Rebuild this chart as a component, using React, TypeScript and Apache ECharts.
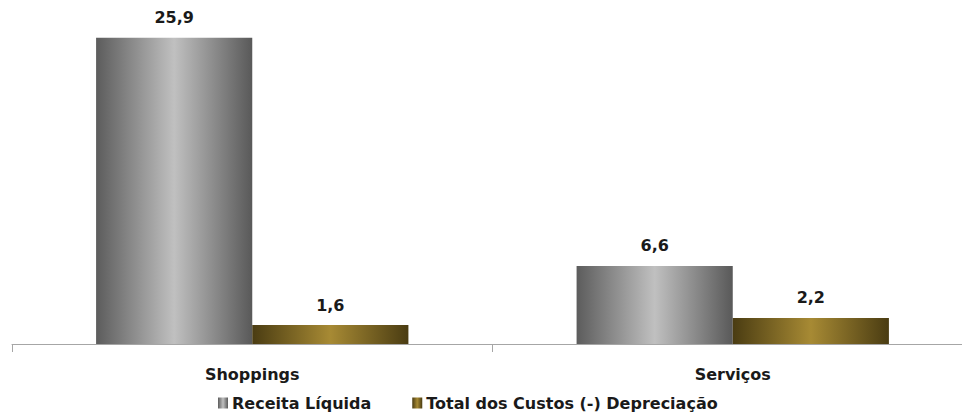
import React, { useEffect, useRef } from "react";
import * as echarts from "echarts";

const categories = ["Shoppings", "Serviços"];
const receitaLiquida = [25.9, 6.6];
const custosDepreciacao = [1.6, 2.2];
const seriesNames = ["Receita Líquida", "Total dos Custos (-) Depreciação"];

const FONT = "'DejaVu Sans', sans-serif";
const TEXT_COLOR = "#1a1a1a";

const hGradient = (edge: string, mid: string, edge2: string) =>
  new echarts.graphic.LinearGradient(0, 0, 1, 0, [
    { offset: 0, color: edge },
    { offset: 0.5, color: mid },
    { offset: 1, color: edge2 },
  ]);

const fmt = (v: number) => v.toFixed(1).replace(".", ",");

export default function App() {
  const ref = useRef<HTMLDivElement>(null);

  useEffect(() => {
    if (!ref.current) return;
    const chart = echarts.init(ref.current, undefined, { renderer: "svg" });
    const label = {
      show: true,
      position: "top" as const,
      distance: 12,
      fontFamily: FONT,
      fontWeight: "bold" as const,
      fontSize: 16,
      color: TEXT_COLOR,
      formatter: (p: any) => fmt(p.value),
    };
    chart.setOption({
      animation: false,
      backgroundColor: "#ffffff",
      // the category axis runs past the right edge of the canvas
      grid: {
        left: 12,
        top: 13,
        width: 961,
        height: 331,
        containLabel: false,
        outerBoundsMode: "none",
      },
      legend: {
        top: 395,
        left: 218,
        padding: 0,
        itemWidth: 10,
        itemHeight: 11,
        itemGap: 41,
        icon: "rect",
        textStyle: {
          fontFamily: FONT,
          fontWeight: "bold",
          fontSize: 16,
          lineHeight: 16,
          color: TEXT_COLOR,
          padding: [0, 0, 0, -1],
        },
        data: seriesNames,
      },
      xAxis: {
        type: "category",
        data: categories,
        axisLine: { lineStyle: { color: "#a6a6a6", width: 1 } },
        axisTick: { show: true, length: 8, lineStyle: { color: "#a6a6a6" } },
        axisLabel: {
          margin: 22,
          fontFamily: FONT,
          fontWeight: "bold",
          fontSize: 16,
          color: TEXT_COLOR,
        },
      },
      yAxis: {
        type: "value",
        min: 0,
        max: 28,
        show: false,
        splitLine: { show: false },
      },
      series: [
        {
          name: seriesNames[0],
          type: "bar",
          data: receitaLiquida,
          barGap: "0%",
          barCategoryGap: "35%",
          itemStyle: { color: hGradient("#5c5c5c", "#c0c0c0", "#595959") },
          label,
        },
        {
          name: seriesNames[1],
          type: "bar",
          data: custosDepreciacao,
          itemStyle: { color: hGradient("#4a3c12", "#a78a34", "#4a3c12") },
          label,
        },
      ],
    });
    return () => chart.dispose();
  }, []);

  return (
    <div
      ref={ref}
      style={{ position: "fixed", left: 0, top: 0, width: 962, height: 414 }}
    />
  );
}
